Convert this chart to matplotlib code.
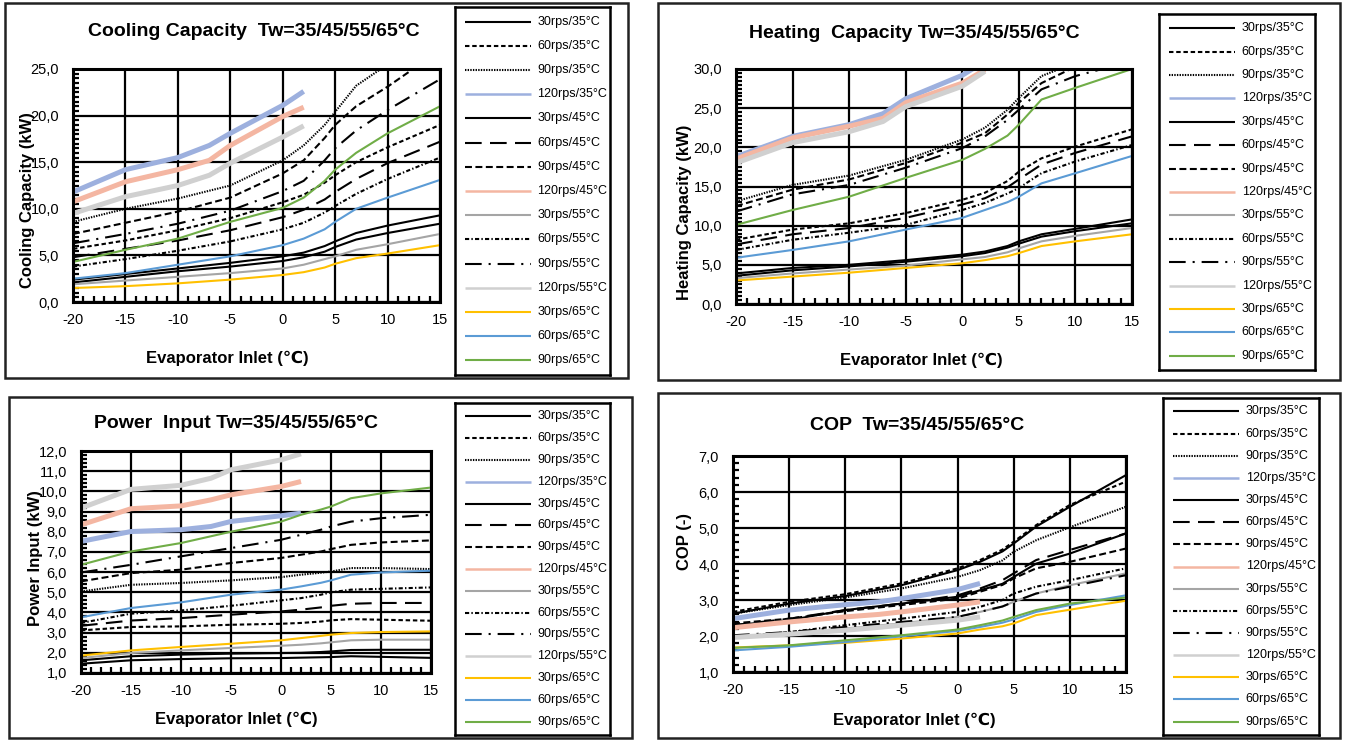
import matplotlib
matplotlib.use("Agg")
import matplotlib.pyplot as plt
from matplotlib.patches import Rectangle
from matplotlib.ticker import MultipleLocator, FuncFormatter

plt.rcParams['font.family'] = ['Liberation Sans', 'DejaVu Sans']
plt.rcParams['lines.scale_dashes'] = False
plt.rcParams['axes.unicode_minus'] = False

# ---- dados ----
x_full = [-20, -15, -10, -5, 0, 2, 4, 5, 7, 10, 15]
x_120 = [-20, -15, -10, -7, -5, 0, 2]

labels = ['30rps/35°C', '60rps/35°C', '90rps/35°C', '120rps/35°C',
          '30rps/45°C', '60rps/45°C', '90rps/45°C', '120rps/45°C',
          '30rps/55°C', '60rps/55°C', '90rps/55°C', '120rps/55°C',
          '30rps/65°C', '60rps/65°C', '90rps/65°C']

# series na ordem da legenda (as de 120rps usam x_120)
cooling = [
    [2.4, 3.0, 3.6, 4.2, 4.9, 5.3, 6.0, 6.5, 7.4, 8.2, 9.3],
    [5.7, 6.6, 7.7, 9.0, 10.7, 11.5, 12.8, 13.6, 15.0, 16.6, 19.0],
    [8.6, 10.0, 11.1, 12.5, 15.2, 16.8, 19.0, 20.4, 23.2, 25.5, 29.0],
    [11.8, 14.2, 15.5, 16.8, 18.1, 21.1, 22.6],
    [2.1, 2.7, 3.3, 3.8, 4.4, 4.8, 5.4, 5.9, 6.7, 7.4, 8.4],
    [4.8, 5.7, 6.6, 7.7, 9.1, 9.9, 11.0, 11.8, 13.2, 14.9, 17.2],
    [7.3, 8.5, 9.7, 11.2, 13.8, 15.2, 17.6, 19.0, 21.0, 23.1, 27.0],
    [10.75, 12.9, 14.2, 15.2, 16.8, 19.9, 20.9],
    [1.9, 2.3, 2.7, 3.1, 3.6, 4.0, 4.6, 4.9, 5.6, 6.2, 7.3],
    [3.8, 4.6, 5.5, 6.5, 7.8, 8.5, 9.6, 10.3, 11.6, 13.2, 15.5],
    [6.3, 7.3, 8.4, 9.8, 11.9, 13.0, 15.2, 16.5, 18.4, 20.6, 23.9],
    [9.5, 11.3, 12.5, 13.6, 14.9, 17.7, 18.9],
    [1.5, 1.7, 2.0, 2.4, 2.9, 3.2, 3.7, 4.1, 4.7, 5.2, 6.1],
    [2.5, 3.1, 4.0, 4.9, 6.1, 6.8, 7.8, 8.6, 10.0, 11.2, 13.1],
    [4.3, 5.6, 6.8, 8.6, 10.1, 11.2, 13.0, 14.2, 16.0, 18.1, 21.0],
]

heating = [
    [3.9, 4.6, 5.0, 5.6, 6.3, 6.7, 7.4, 8.0, 8.9, 9.6, 10.8],
    [8.2, 9.5, 10.3, 11.6, 13.3, 14.2, 15.7, 16.9, 18.6, 20.1, 22.3],
    [13.1, 15.2, 16.4, 18.4, 21.0, 22.5, 24.8, 26.3, 29.1, 30.8, 33.0],
    [18.8, 21.4, 22.9, 24.3, 26.2, 29.2, 31.0],
    [3.6, 4.3, 4.8, 5.4, 6.1, 6.5, 7.2, 7.7, 8.6, 9.3, 10.3],
    [7.6, 8.9, 9.7, 11.0, 12.7, 13.5, 14.9, 15.9, 17.8, 19.3, 21.4],
    [12.5, 14.6, 15.9, 18.0, 20.6, 21.8, 24.2, 25.7, 28.2, 30.3, 32.5],
    [18.5, 21.2, 22.7, 23.7, 25.7, 28.2, 29.9],
    [3.3, 3.9, 4.4, 4.9, 5.7, 6.0, 6.6, 7.1, 8.0, 8.7, 9.7],
    [6.9, 8.2, 9.1, 10.1, 12.0, 12.9, 14.1, 14.8, 16.7, 18.2, 20.3],
    [11.8, 14.0, 15.2, 17.4, 19.9, 21.4, 23.5, 24.8, 27.4, 29.1, 31.0],
    [18.0, 20.6, 22.0, 23.3, 25.2, 27.8, 29.7],
    [3.0, 3.5, 4.0, 4.6, 5.2, 5.6, 6.1, 6.5, 7.4, 8.0, 8.9],
    [5.9, 6.9, 8.0, 9.5, 11.0, 12.0, 13.0, 13.7, 15.4, 16.7, 18.9],
    [10.1, 12.0, 13.7, 16.1, 18.4, 19.8, 21.5, 22.9, 26.1, 27.6, 30.0],
]

power = [
    [1.46, 1.63, 1.69, 1.73, 1.74, 1.76, 1.78, 1.79, 1.83, 1.80, 1.75],
    [3.11, 3.28, 3.31, 3.39, 3.44, 3.48, 3.55, 3.61, 3.67, 3.64, 3.59],
    [5.04, 5.37, 5.46, 5.59, 5.75, 5.87, 5.97, 6.03, 6.20, 6.20, 6.15],
    [7.52, 8.01, 8.10, 8.26, 8.51, 8.79, 8.92],
    [1.63, 1.83, 1.91, 1.96, 1.99, 2.00, 2.04, 2.07, 2.14, 2.15, 2.15],
    [3.34, 3.60, 3.72, 3.89, 4.05, 4.14, 4.25, 4.33, 4.43, 4.47, 4.47],
    [5.54, 5.95, 6.12, 6.45, 6.70, 6.86, 7.02, 7.14, 7.35, 7.47, 7.57],
    [8.34, 9.14, 9.28, 9.58, 9.83, 10.24, 10.49],
    [1.74, 1.99, 2.12, 2.24, 2.35, 2.40, 2.47, 2.52, 2.62, 2.65, 2.65],
    [3.48, 3.94, 4.10, 4.33, 4.60, 4.71, 4.88, 5.00, 5.13, 5.17, 5.24],
    [5.98, 6.36, 6.78, 7.19, 7.60, 7.85, 8.10, 8.26, 8.50, 8.67, 8.84],
    [9.17, 10.10, 10.30, 10.65, 11.07, 11.56, 11.86],
    [1.86, 2.12, 2.29, 2.45, 2.62, 2.73, 2.84, 2.90, 2.98, 3.03, 3.06],
    [3.76, 4.22, 4.50, 4.88, 5.13, 5.29, 5.47, 5.59, 5.87, 5.98, 6.07],
    [6.36, 7.02, 7.44, 8.00, 8.50, 8.84, 9.10, 9.25, 9.66, 9.90, 10.19],
]

cop = [
    [2.62, 2.90, 3.11, 3.41, 3.83, 4.06, 4.35, 4.57, 5.04, 5.59, 6.47],
    [2.67, 2.95, 3.16, 3.46, 3.88, 4.11, 4.40, 4.62, 5.08, 5.64, 6.29],
    [2.62, 2.86, 3.07, 3.32, 3.64, 3.83, 4.10, 4.34, 4.66, 5.02, 5.59],
    [2.48, 2.72, 2.87, 2.95, 3.04, 3.29, 3.46],
    [2.30, 2.44, 2.72, 2.90, 3.09, 3.27, 3.45, 3.64, 4.01, 4.29, 4.85],
    [2.30, 2.48, 2.72, 2.90, 3.13, 3.32, 3.55, 3.74, 4.11, 4.39, 4.85],
    [2.35, 2.48, 2.69, 2.86, 3.04, 3.23, 3.42, 3.60, 3.88, 4.06, 4.43],
    [2.23, 2.39, 2.53, 2.60, 2.67, 2.86, 2.95],
    [1.97, 2.07, 2.21, 2.35, 2.53, 2.67, 2.82, 2.95, 3.18, 3.41, 3.74],
    [1.97, 2.11, 2.30, 2.48, 2.67, 2.81, 3.00, 3.18, 3.37, 3.55, 3.88],
    [2.02, 2.11, 2.25, 2.39, 2.53, 2.67, 2.82, 2.95, 3.18, 3.37, 3.69],
    [1.96, 2.05, 2.16, 2.24, 2.30, 2.44, 2.53],
    [1.68, 1.74, 1.81, 1.93, 2.07, 2.18, 2.27, 2.35, 2.58, 2.73, 2.98],
    [1.60, 1.70, 1.83, 1.99, 2.14, 2.25, 2.37, 2.46, 2.67, 2.86, 3.13],
    [1.67, 1.74, 1.88, 2.02, 2.18, 2.30, 2.43, 2.53, 2.72, 2.90, 3.07],
]

# ---- estilos (cor, tipo de linha, espessura) ----
estilos = [
    ('black', 'solid', 1.5),
    ('black', (0, (3.2, 2.0)), 1.5),
    ('black', (0, (1.0, 0.9)), 1.5),
    ('#9DB0DE', 'solid', 3.6),
    ('black', 'solid', 1.5),
    ('black', (0, (12, 6)), 1.5),
    ('black', (0, (5, 2.5)), 1.5),
    ('#F4B6A2', 'solid', 3.6),
    ('#A5A5A5', 'solid', 1.5),
    ('black', (0, (3, 1.6, 1, 1.6)), 1.5),
    ('black', (0, (12, 5, 1.5, 5)), 1.5),
    ('#D0D0D0', 'solid', 3.6),
    ('#FFC000', 'solid', 1.5),
    ('#5B9BD5', 'solid', 1.5),
    ('#70AD47', 'solid', 1.5),
]

W, H = 1351, 740


def rect_px(x0, y0, x1, y1):
    return [x0 / W, 1 - y1 / H, (x1 - x0) / W, (y1 - y0) / H]


virgula = FuncFormatter(lambda v, p: f"{v:.1f}".replace('.', ','))

paineis = [
    dict(dados=cooling, titulo='Cooling Capacity  Tw=35/45/55/65°C', ylabel='Cooling Capacity (kW)',
         borda=(5, 3, 628, 378), eixo=(73, 69, 440, 302), leg=(455, 7, 610, 375),
         tit=(254, 32), xl=(227, 358), yl=(28, 200), ylim=(0, 25), maj=5, mnr=0.5),
    dict(dados=heating, titulo='Heating  Capacity Tw=35/45/55/65°C', ylabel='Heating Capacity (kW)',
         borda=(658, 3, 1340, 380), eixo=(736, 69, 1132, 304), leg=(1159, 14, 1315, 370),
         tit=(914, 34), xl=(921, 360), yl=(685, 212), ylim=(0, 30), maj=5, mnr=0.5),
    dict(dados=power, titulo='Power  Input Tw=35/45/55/65°C', ylabel='Power Input (kW)',
         borda=(9, 397, 632, 738), eixo=(81, 451, 431, 673), leg=(455, 403, 610, 735),
         tit=(236, 423), xl=(236, 719), yl=(36, 558), ylim=(1, 12), maj=1, mnr=0.2),
    dict(dados=cop, titulo='COP  Tw=35/45/55/65°C', ylabel='COP (-)',
         borda=(658, 393, 1340, 738), eixo=(733, 456, 1126, 672), leg=(1163, 398, 1319, 735),
         tit=(917, 425), xl=(914, 720), yl=(684, 542), ylim=(1, 7), maj=1, mnr=0.2),
]

fig = plt.figure(figsize=(W / 100, H / 100), dpi=100)

for p in paineis:
    # moldura do painel
    bx0, by0, bx1, by1 = p['borda']
    fig.add_artist(Rectangle((bx0 / W, 1 - by1 / H), (bx1 - bx0) / W, (by1 - by0) / H,
                             transform=fig.transFigure, fill=False, ec='#222222', lw=1.8))

    ax = fig.add_axes(rect_px(*p['eixo']))
    for i, serie in enumerate(p['dados']):
        cor, ls, lw = estilos[i]
        xs = x_120 if len(serie) == len(x_120) else x_full
        ax.plot(xs, serie, color=cor, linestyle=ls, lw=lw, solid_capstyle='butt')

    ax.set_xlim(-20, 15)
    ax.set_ylim(*p['ylim'])
    ax.xaxis.set_major_locator(MultipleLocator(5))
    ax.xaxis.set_minor_locator(MultipleLocator(1))
    ax.yaxis.set_major_locator(MultipleLocator(p['maj']))
    ax.yaxis.set_minor_locator(MultipleLocator(p['mnr']))
    ax.yaxis.set_major_formatter(virgula)
    ax.set_axisbelow(True)
    ax.grid(True, which='major', color='black', lw=1.6)
    ax.tick_params(which='major', length=0, labelsize=10.5)
    ax.tick_params(axis='x', which='major', pad=8)
    ax.tick_params(axis='y', which='major', pad=10)
    ax.tick_params(which='minor', direction='in', length=4, width=1.6, color='black')
    for s in ax.spines.values():
        s.set_linewidth(2.2)

    fig.text(p['tit'][0] / W, 1 - p['tit'][1] / H, p['titulo'], ha='center', va='center',
             fontsize=14, weight='bold')
    fig.text(p['xl'][0] / W, 1 - p['xl'][1] / H, 'Evaporator Inlet (℃)', ha='center', va='center',
             fontsize=12, weight='bold')
    fig.text(p['yl'][0] / W, 1 - p['yl'][1] / H, p['ylabel'], ha='center', va='center',
             fontsize=12, weight='bold', rotation=90)

    # legenda em caixa propria
    lax = fig.add_axes(rect_px(*p['leg']))
    lax.set_xlim(0, 1)
    lax.set_ylim(0, 1)
    lax.set_xticks([])
    lax.set_yticks([])
    for s in lax.spines.values():
        s.set_linewidth(1.8)
    m = 0.04
    for i, lab in enumerate(labels):
        y = 1 - m - i * (1 - 2 * m) / 14
        cor, ls, lw = estilos[i]
        lax.plot([0.065, 0.49], [y, y], color=cor, linestyle=ls, lw=min(lw, 1.8), solid_capstyle='butt')
        lax.text(0.53, y, lab, va='center', ha='left', fontsize=9)

fig.savefig('out.png', dpi=100)
